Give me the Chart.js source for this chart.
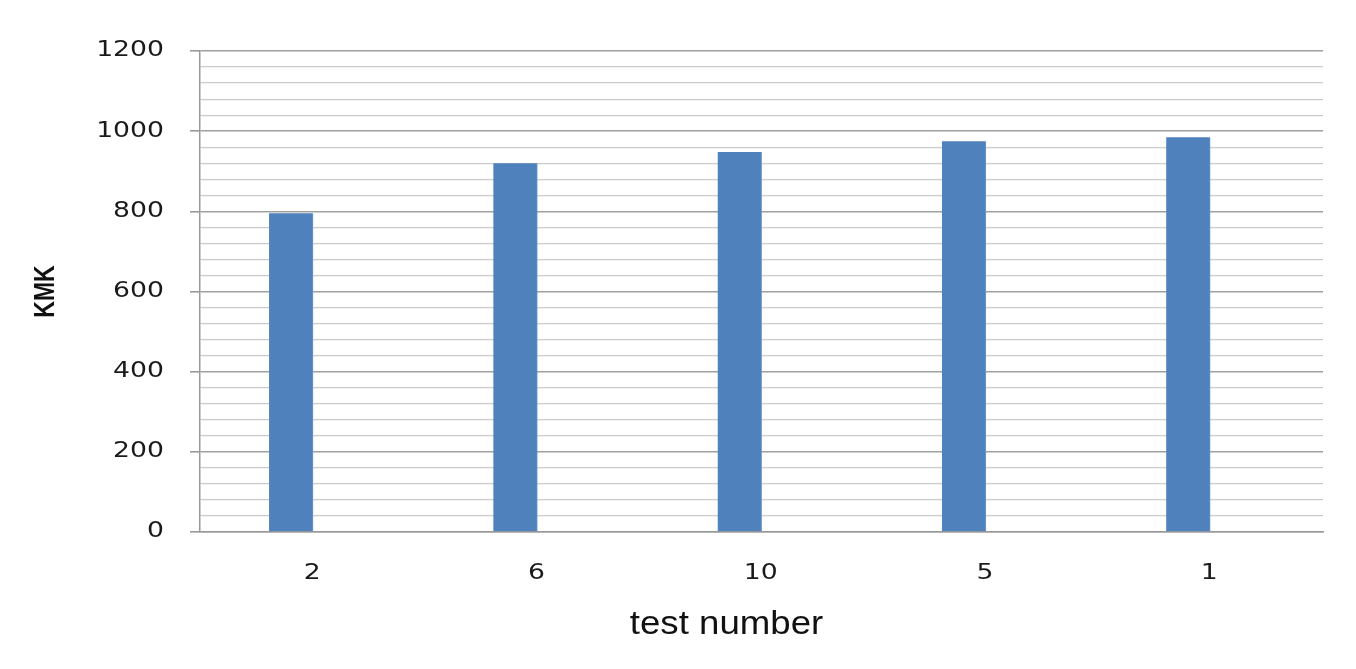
<!DOCTYPE html>
<html>
<head>
<meta charset="utf-8">
<script src="https://cdn.jsdelivr.net/npm/chart.js"></script>
<style>
  html, body { margin: 0; padding: 0; background: #fff; }
  #wrap { width: 1356px; height: 669px; }
</style>
</head>
<body>
<div id="wrap"><canvas id="c" width="1356" height="669"></canvas></div>
<script>
const categories = ['2', '6', '10', '5', '1'];
const kmkValues = [795, 920, 948, 975, 985];
const yMin = 0, yMax = 1200, yMinorStep = 40, yMajorStep = 200;
const yTitle = 'KMK';
const xTitle = 'test number';

const isMajor = v => v % yMajorStep === 0;

// bars sit slightly left of their category slot centres, as in the reference
const xStart = -0.406;
const xEnd = xStart + 5.007;
const labelShift = 0.5 + xStart; // labels sit at the true slot centres

function wideText(ctx, text, x, y, sx, align, font, color) {
  ctx.save();
  ctx.font = font;
  ctx.fillStyle = color;
  ctx.textBaseline = 'middle';
  ctx.textAlign = align;
  ctx.translate(x, y);
  ctx.scale(sx, 1);
  ctx.fillText(text, 0, 0);
  ctx.restore();
}

const labelPlugin = {
  id: 'labelPlugin',
  afterDraw(chart) {
    const ctx = chart.ctx;
    const ys = chart.scales.y, xs = chart.scales.x;
    const tickFont = '21px "DejaVu Sans"';
    ys.ticks.forEach(t => {
      if (!isMajor(t.value)) return;
      wideText(ctx, String(t.value), ys.right - 36, ys.getPixelForValue(t.value), 1.27, 'right', tickFont, '#1a1a1a');
    });
    categories.forEach((lab, i) => {
      wideText(ctx, lab, xs.getPixelForValue(i + labelShift), xs.top + 42, 1.27, 'center', tickFont, '#1a1a1a');
    });
    ctx.save();
    ctx.translate(46, (chart.chartArea.top + chart.chartArea.bottom) / 2);
    ctx.rotate(-Math.PI / 2);
    ctx.scale(1, 1.3);
    ctx.font = 'bold 23px "Liberation Sans"';
    ctx.fillStyle = '#111';
    ctx.textAlign = 'center';
    ctx.textBaseline = 'middle';
    ctx.fillText(yTitle, 0, 0);
    ctx.restore();
    const cx = (chart.chartArea.left + chart.chartArea.right) / 2 - 35;
    wideText(ctx, xTitle, cx, xs.top + 93, 1.11, 'center', '33px "Liberation Sans"', '#111');
  }
};

new Chart(document.getElementById('c'), {
  type: 'bar',
  data: {
    datasets: [{
      data: kmkValues.map((v, i) => ({ x: i, y: v })),
      backgroundColor: '#4F81BD',
      borderColor: '#6f9bd3',
      borderWidth: { left: 0, top: 0, bottom: 0, right: 1 },
      borderSkipped: false,
      barThickness: 44
    }]
  },
  plugins: [labelPlugin],
  options: {
    responsive: false,
    animation: false,
    events: [],
    layout: { padding: { left: 0, right: 33, top: 51, bottom: 0 } },
    plugins: { legend: { display: false }, tooltip: { enabled: false } },
    scales: {
      x: {
        type: 'linear',
        min: xStart,
        max: xEnd,
        offset: false,
        afterFit: s => { s.height = 137; },
        grid: { display: false, drawTicks: false },
        border: { display: true, color: '#999999', width: 1.5 },
        ticks: { display: false }
      },
      y: {
        min: yMin,
        max: yMax,
        afterFit: s => { s.width = 200; },
        grid: {
          color: ctx => isMajor(ctx.tick.value) ? '#a0a0a0' : '#cbcbcb',
          lineWidth: ctx => isMajor(ctx.tick.value) ? 1.6 : 1.2,
          tickColor: ctx => isMajor(ctx.tick.value) ? '#999999' : 'rgba(0,0,0,0)',
          tickLength: 10
        },
        border: { display: true, color: '#999999', width: 1.5 },
        ticks: {
          stepSize: yMinorStep,
          autoSkip: false,
          maxTicksLimit: 100,
          display: false
        }
      }
    }
  }
});
</script>
</body>
</html>
